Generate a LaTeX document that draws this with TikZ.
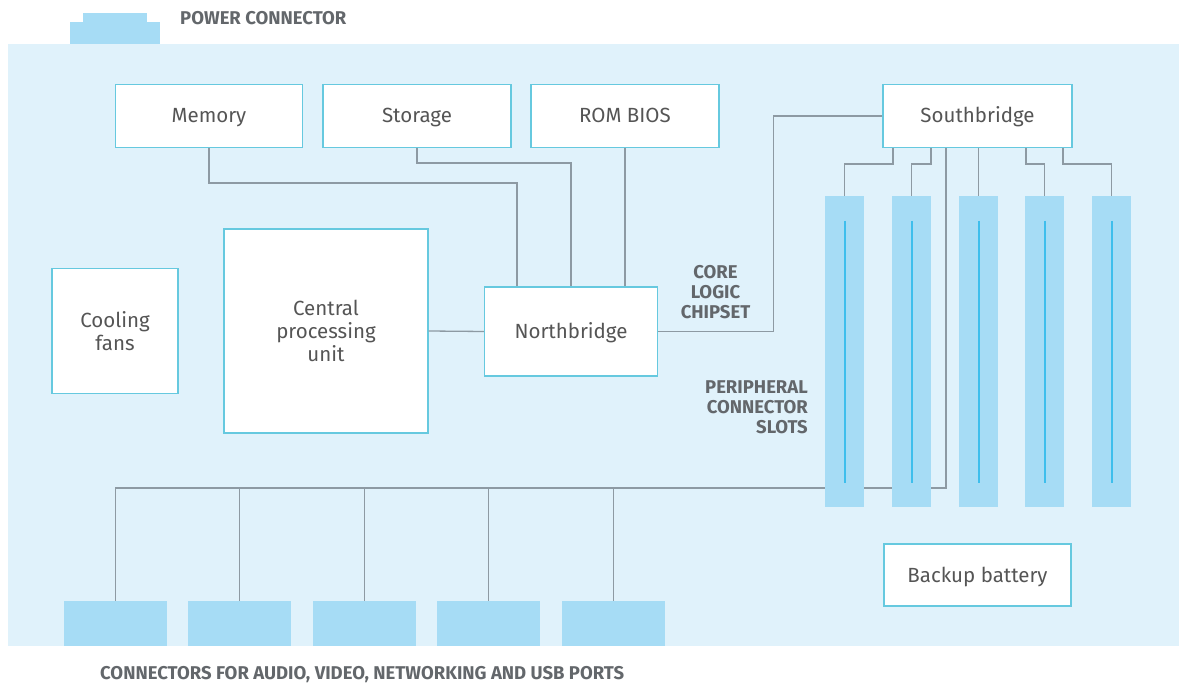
\documentclass[tikz,border=0pt]{standalone}
\usepackage{fontspec}
\setmainfont{Fira Sans}
\definecolor{boardfill}{HTML}{E0F2FB}
\definecolor{partfill}{HTML}{A6DCF5}
\definecolor{slotline}{HTML}{3EBEEC}
\definecolor{boxedge}{HTML}{66C9DF}
\definecolor{wire}{HTML}{8D9AA3}
\definecolor{boxtext}{HTML}{555555}
\definecolor{captext}{HTML}{63676B}
\tikzset{
  unit/.style={draw=boxedge, line width=1.3pt, fill=white, inner sep=0pt,
    text=boxtext, font=\fontsize{20.5}{23}\selectfont, align=center},
  oneline/.style={text height=14pt, text depth=0pt},
  slotbox/.style={fill=partfill, inner sep=0pt, minimum width=39pt, minimum height=311pt},
  portbox/.style={fill=partfill, inner sep=0pt, minimum width=103pt, minimum height=45pt},
  caption/.style={text=captext, font=\fontsize{18.5}{20}\selectfont\bfseries, inner sep=0pt},
  wiring/.style={draw=wire, line width=1.3pt},
  slotrail/.style={draw=slotline, line width=2pt}
}
\begin{document}
\begin{tikzpicture}[x=1pt,y=-1pt]
\useasboundingbox (0,0) rectangle (1179,684);

% board and power connector
\fill[boardfill] (8,44) rectangle (1179,646);
\fill[partfill] (70,22) rectangle (160,44);
\fill[partfill] (83,13) rectangle (147,22);
\node[caption, anchor=west] (pwr) at (180,18) {POWER CONNECTOR};

% main units
\node[unit, oneline, minimum width=187pt, minimum height=63pt] (mem) at (209,116) {Memory};
\node[unit, oneline, minimum width=188pt, minimum height=63pt] (sto) at (417,116) {Storage};
\node[unit, oneline, minimum width=188pt, minimum height=63pt] (rom) at (625,116) {ROM BIOS};
\node[unit, oneline, minimum width=189pt, minimum height=63pt] (sb) at (977.5,116) {Southbridge};
\node[unit, minimum width=126pt, minimum height=125pt] (fan) at (115,331) {Cooling\\fans};
\node[unit, minimum width=204pt, minimum height=204pt] (cpu) at (326,331) {Central\\processing\\unit};
\node[unit, oneline, minimum width=173pt, minimum height=89pt] (nb) at (571,331.5) {Northbridge};
\node[unit, oneline, minimum width=187pt, minimum height=62pt] (bat) at (977.5,575) {Backup battery};

% slot and port positions
\path (844.5,351.5) coordinate (p1) (911.5,351.5) coordinate (p2) (978.5,351.5) coordinate (p3)
      (1044.5,351.5) coordinate (p4) (1111.5,351.5) coordinate (p5);
\path (115.5,623.5) coordinate (q1) (239.5,623.5) coordinate (q2) (364.5,623.5) coordinate (q3)
      (488.5,623.5) coordinate (q4) (613.5,623.5) coordinate (q5);
\coordinate (bus) at (0,488);

% wiring (drawn below the slots)
\draw[wiring] (mem.south) -- ++(0,35) -| ([xshift=-54pt]nb.north);
\draw[wiring] (sto.south) -- ++(0,15) -| (nb.north);
\draw[wiring] (rom.south) -- (rom.south |- nb.north);
\draw[wiring] (cpu.east) -- (nb.west);
\draw[wiring] (nb.east) -- ++(115,0) |- (sb.west);
\draw[wiring] ([xshift=-84.5pt]sb.south) -- ++(0,16) -| (p1);
\draw[wiring] ([xshift=-46.5pt]sb.south) -- ++(0,16) -| (p2);
\draw[wiring] (p3 |- sb.south) -- (p3);
\draw[wiring] ([xshift=48.5pt]sb.south) -- ++(0,16) -| (p4);
\draw[wiring] ([xshift=85.5pt]sb.south) -- ++(0,16) -| (p5);
\draw[wiring] ([xshift=-31.5pt]sb.south) |- (q1 |- bus) -- (q1);
\foreach \q in {q2,q3,q4,q5} \draw[wiring] (\q |- bus) -- (\q);

% expansion slots with their centre rails
\foreach \p/\n in {p1/s1,p2/s2,p3/s3,p4/s4,p5/s5} {
  \node[slotbox] (\n) at (\p) {};
  \draw[slotrail] ([yshift=-25pt]\n.north) -- ([yshift=24pt]\n.south);
}
% I/O ports
\foreach \q/\n in {q1/c1,q2/c2,q3/c3,q4/c4,q5/c5} \node[portbox] (\n) at (\q) {};

% captions
\node[caption, align=center] (core) at (715.5,292) {CORE\\LOGIC\\CHIPSET};
\node[caption, align=right, anchor=east] (peri) at (808,407) {PERIPHERAL\\CONNECTOR\\SLOTS};
\node[caption, anchor=west] (ports) at (100,675) {CONNECTORS FOR AUDIO, VIDEO, NETWORKING AND USB PORTS};
\end{tikzpicture}
\end{document}
